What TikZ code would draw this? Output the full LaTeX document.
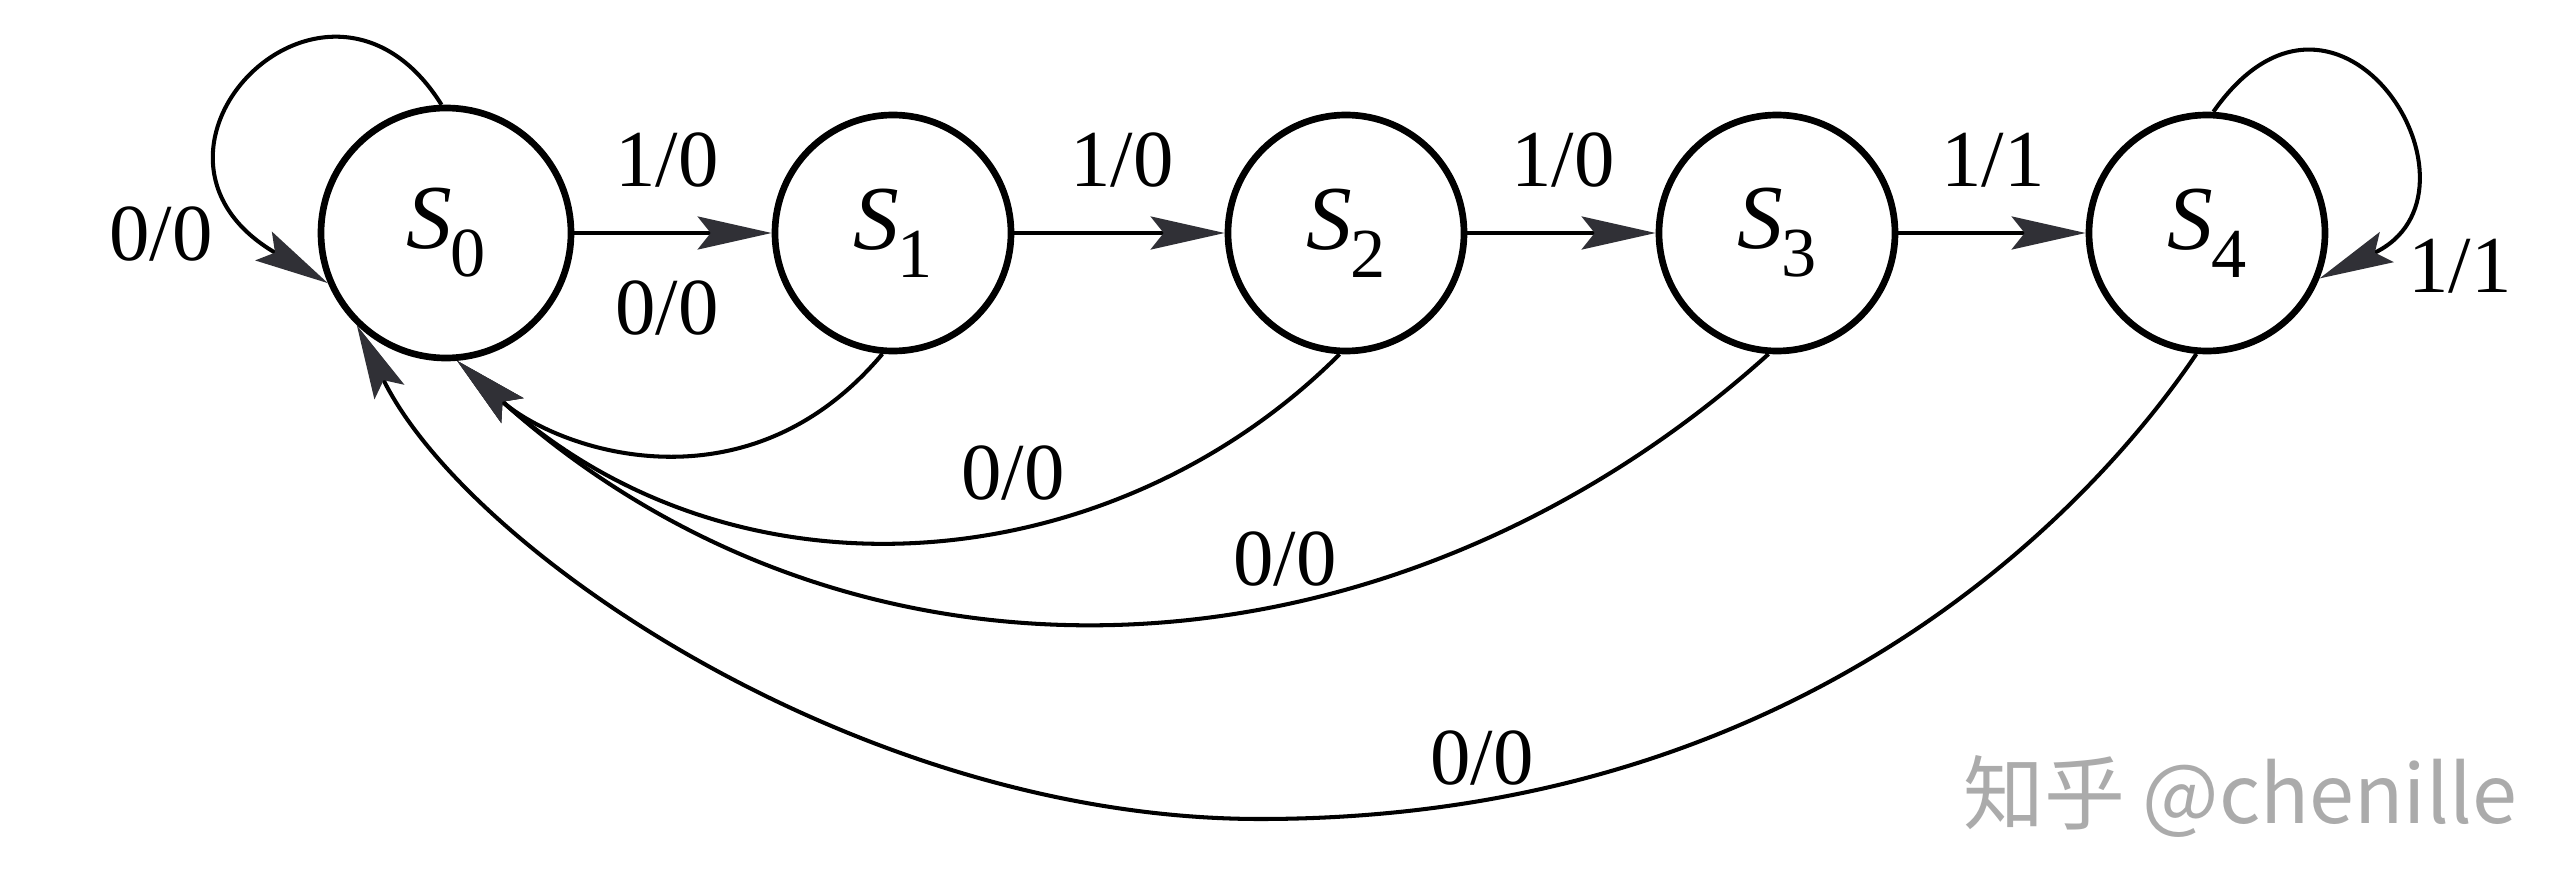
\documentclass[tikz,border=0pt]{standalone}
\usepackage{fontspec}
\setmainfont{Liberation Serif}
\newfontfamily\timesfont{Liberation Serif}
\newfontfamily\cjkwm{Noto Sans CJK SC}
\usetikzlibrary{arrows.meta}
\definecolor{tipgray}{HTML}{303036}
\definecolor{wmgray}{HTML}{ABABAB}
\newcommand{\stname}[1]{{\timesfont\fontsize{26}{26}\selectfont\itshape S}\kern-0.5pt\raisebox{-8pt}{\timesfont\fontsize{20}{20}\selectfont #1}}
\begin{document}
\begin{tikzpicture}[
  state/.style={circle, draw, line width=1.9pt, minimum size=2.36cm, inner sep=0pt},
  edge/.style={line width=1.15pt, -{Stealth[length=7.4mm, width=3.3mm, inset=1.3mm, color=tipgray]}},
  lbl/.style={font=\timesfont\fontsize{23}{23}\selectfont, inner sep=0pt},
]
\useasboundingbox (0,0) rectangle (25.68,8.94);
\fill[white] (0,0) rectangle (25.68,8.94);

% states
\node[state, minimum size=2.5cm] (S0) at (4.46,6.61) {\stname{0}};
\node[state] (S1) at (8.93,6.61) {\stname{1}};
\node[state] (S2) at (13.46,6.61) {\stname{2}};
\node[state] (S3) at (17.77,6.61) {\stname{3}};
\node[state] (S4) at (22.07,6.61) {\stname{4}};

% forward transitions
\draw[edge] (S0) -- (S1);
\draw[edge] (S1) -- (S2);
\draw[edge] (S2) -- (S3);
\draw[edge] (S3) -- (S4);

% self loops
\draw[edge] (S0.92) .. controls +(122:2.15) and +(150:2.6) .. (S0.203);
\draw[edge] (S4.87) .. controls +(55:2.2) and +(25:2.0) .. (S4.338);

% back transitions
\draw[edge] (S1.265) .. controls +(230:2.12) and +(318:1.33) .. (S0.275);
\draw[edge] (S2.267) .. controls +(225:3.19) and +(318:3.80) .. (S0.275);
\draw[edge] (S3.266) .. controls +(222:5.1) and +(318:5.35) .. (S0.275);
\coordinate (b4) at (12.6,0.75);
\draw[edge] (S4.265) .. controls +(236:1.5) and +(5.7,0) .. (b4)
  .. controls +(-4,0) and +(296:2.5) .. (S0.226);

% labels
\node[lbl] (l00) at (1.61,6.60) {0/0};
\node[lbl] (l01) at (6.67,7.34) {1/0};
\node[lbl] (l10) at (6.67,5.86) {0/0};
\node[lbl] (l12) at (11.22,7.34) {1/0};
\node[lbl] (l23) at (15.63,7.34) {1/0};
\node[lbl] (l34) at (19.93,7.34) {1/1};
\node[lbl] (l44) at (24.60,6.28) {1/1};
\node[lbl] (l20) at (10.13,4.21) {0/0};
\node[lbl] (l30) at (12.85,3.35) {0/0};
\node[lbl] (l40) at (14.82,1.36) {0/0};

% watermark
\node[font=\cjkwm\fontsize{23}{23}\selectfont, text=wmgray, inner sep=0pt] (wm) at (22.40,0.98) {知乎 @chenille};
\end{tikzpicture}
\end{document}
